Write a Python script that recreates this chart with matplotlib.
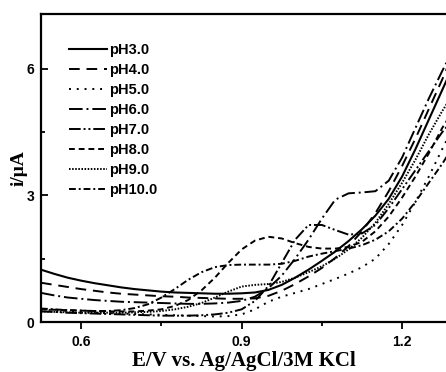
import matplotlib
matplotlib.use("Agg")
import matplotlib.pyplot as plt
from matplotlib.ticker import MultipleLocator

# ---- data ----
E = [0.525, 0.55, 0.575, 0.6, 0.625, 0.65, 0.675, 0.7, 0.725, 0.75, 0.775, 0.8,
     0.825, 0.85, 0.875, 0.9, 0.925, 0.95, 0.975, 1.0, 1.025, 1.05, 1.075, 1.1,
     1.125, 1.15, 1.175, 1.2, 1.225, 1.25, 1.275, 1.285]

pH3 = [1.24, 1.14, 1.05, 0.98, 0.92, 0.87, 0.82, 0.78, 0.75, 0.72, 0.70, 0.69,
       0.68, 0.67, 0.67, 0.68, 0.70, 0.76, 0.88, 1.05, 1.24, 1.45, 1.67, 1.92,
       2.20, 2.52, 2.92, 3.45, 4.10, 4.80, 5.50, 5.78]
pH4 = [0.93, 0.88, 0.83, 0.78, 0.74, 0.70, 0.67, 0.65, 0.63, 0.61, 0.60, 0.58,
       0.57, 0.56, 0.55, 0.55, 0.56, 0.62, 0.74, 0.90, 1.08, 1.28, 1.52, 1.80,
       2.15, 2.58, 3.10, 3.70, 4.35, 5.05, 5.75, 6.05]
pH5 = [0.30, 0.28, 0.26, 0.24, 0.22, 0.21, 0.20, 0.19, 0.18, 0.17, 0.16, 0.15,
       0.14, 0.13, 0.14, 0.18, 0.30, 0.48, 0.60, 0.69, 0.78, 0.90, 1.02, 1.15,
       1.30, 1.50, 1.85, 2.30, 2.85, 3.45, 4.10, 4.35]
pH6 = [0.69, 0.63, 0.58, 0.55, 0.52, 0.50, 0.48, 0.47, 0.46, 0.45, 0.44, 0.43,
       0.43, 0.44, 0.46, 0.50, 0.60, 0.80, 1.10, 1.50, 1.95, 2.45, 2.90, 3.05,
       3.07, 3.10, 3.35, 3.90, 4.60, 5.30, 5.95, 6.20]
pH7 = [0.25, 0.24, 0.22, 0.21, 0.20, 0.19, 0.18, 0.17, 0.16, 0.15, 0.15, 0.15,
       0.16, 0.18, 0.22, 0.30, 0.50, 0.85, 1.40, 1.95, 2.30, 2.30, 2.18, 2.07,
       2.10, 2.30, 2.70, 3.15, 3.60, 4.05, 4.50, 4.65]
pH8 = [0.30, 0.29, 0.28, 0.27, 0.26, 0.25, 0.25, 0.25, 0.27, 0.30, 0.38, 0.52,
       0.75, 1.05, 1.40, 1.72, 1.93, 2.02, 1.98, 1.87, 1.78, 1.74, 1.74, 1.78,
       1.90, 2.15, 2.50, 2.95, 3.45, 4.00, 4.60, 4.80]
pH9 = [0.25, 0.24, 0.23, 0.22, 0.22, 0.22, 0.22, 0.23, 0.24, 0.26, 0.30, 0.36,
       0.45, 0.58, 0.72, 0.84, 0.88, 0.90, 0.95, 1.05, 1.18, 1.32, 1.50, 1.72,
       2.00, 2.35, 2.80, 3.30, 3.85, 4.45, 5.00, 5.20]
pH10 = [0.32, 0.30, 0.28, 0.27, 0.26, 0.26, 0.28, 0.33, 0.42, 0.58, 0.78, 1.00,
        1.18, 1.30, 1.35, 1.36, 1.36, 1.36, 1.38, 1.45, 1.55, 1.62, 1.68, 1.74,
        1.82, 1.95, 2.15, 2.45, 2.85, 3.30, 3.75, 3.95]

labels = ["pH3.0", "pH4.0", "pH5.0", "pH6.0", "pH7.0", "pH8.0", "pH9.0", "pH10.0"]
series = [pH3, pH4, pH5, pH6, pH7, pH8, pH9, pH10]
styles = ["-", (0, (5.5, 3.5)), (0, (1, 3)), (0, (7, 2, 1, 2)),
          (0, (6, 1.5, 1, 1.5, 1, 1.5)), (0, (3, 2)), (0, (0.8, 0.8)),
          (0, (3.5, 1.5, 1, 1.5))]

xticks = [0.6, 0.9, 1.2]
yticks = [0, 3, 6]

fig = plt.figure(figsize=(4.46, 3.72), dpi=100)
ax = fig.add_axes([41/446, 1 - 322/372, 1 - 41/446, (322 - 14)/372])

for y, lab, ls in zip(series, labels, styles):
    ax.plot(E, y, color="black", linestyle=ls, linewidth=1.5 if ls == "-" else 1.4,
            label=lab)

ax.set_xlim(0.525, 1.282)
ax.set_ylim(0, 7.3)
ax.set_xticks(xticks)
ax.set_yticks(yticks)
ax.xaxis.set_minor_locator(MultipleLocator(0.15))
ax.yaxis.set_minor_locator(MultipleLocator(1.5))
ax.tick_params(axis="x", which="both", direction="out", width=1.3)
ax.tick_params(axis="y", which="both", direction="in", width=1.3)
ax.tick_params(which="major", length=5)
ax.tick_params(which="minor", length=3)
ax.tick_params(axis="x", pad=4)
ax.tick_params(axis="y", pad=5)
for lab in ax.get_xticklabels() + ax.get_yticklabels():
    lab.set_fontfamily("Liberation Sans")
    lab.set_fontweight("bold")
    lab.set_fontsize(10)

for s in ["left", "bottom", "top"]:
    ax.spines[s].set_linewidth(1.6)
ax.spines["right"].set_visible(False)

ax.set_xlabel("E/V vs. Ag/AgCl/3M KCl", fontfamily="Liberation Serif",
              fontweight="bold", fontsize=15, labelpad=2)
ax.set_ylabel("i/\u03bcA", fontfamily="Liberation Serif", fontweight="bold",
              fontsize=14, labelpad=-1)

leg = ax.legend(loc="upper left", bbox_to_anchor=(0.07, 0.905), frameon=False,
                borderpad=0, borderaxespad=0, handlelength=2.55,
                handletextpad=0.2, labelspacing=0.41,
                prop={"family": "Liberation Sans", "weight": "bold", "size": 10.5})

fig.savefig("out.png", dpi=100)
